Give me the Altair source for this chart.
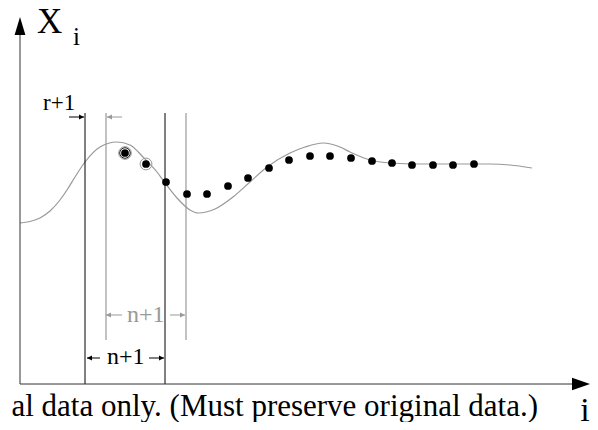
import altair as alt
import pandas as pd

# Reference signal (smooth curve), in diagram units (x to the right of the Y axis, y above the i axis)
curve_x = [0, 10, 20, 30, 40, 47, 55, 65, 80, 97, 110, 123, 137, 145, 157, 170, 178, 195, 213, 230, 247,
           270, 285, 303, 320, 330, 350, 370, 400, 440, 470, 490, 512]
curve_y = [161, 162.5, 166, 173, 184, 194, 207, 222, 237, 242, 239, 227, 212, 201, 186, 174, 171, 175, 187,
           202, 217, 231, 237, 241, 237, 232, 224, 221, 220, 220, 220, 219, 216]

# Filtered samples (dots)
dot_x = [105, 126, 146, 167, 187, 208, 228, 249, 269, 290, 310, 331, 352, 372, 392, 413, 433, 454]
dot_y = [231, 220, 202, 190, 190, 198, 206, 216, 224, 228, 228, 226, 223, 221, 219, 219, 219, 220]

# Window boundaries
black_bounds = [65, 145]
gray_bounds = [86, 166]
black_top, gray_top, gray_bottom = 271, 271, 44

# Dimension arrows: start, tip, y, colour
arr_start = [49, 102, 102, 150, 80, 129]
arr_tip = [64, 87, 86, 165, 67, 144]
arr_y = [267, 267, 69, 69, 26, 26]
arr_col = ["black", "#999999", "#999999", "#999999", "black", "black"]

# Labels
lab_text = ["X", "i", "r+1", "n+1", "n+1"]
lab_x = [17, 53, 23, 107, 87]
lab_y = [351, 339, 274, 62, 20]
lab_size = [35, 25, 23, 24, 24]
lab_col = ["black", "black", "black", "#999999", "black"]

GRAY = "#999999"
FONT = "Liberation Serif"

# plot area covers window pixels 8..590 x 8..422
xs = alt.Scale(domain=[-12, 570], nice=False, zero=False)
ys = alt.Scale(domain=[-38, 376], nice=False, zero=False)

def X(f="x"):
    return alt.X(f"{f}:Q", scale=xs, axis=None)

def Y(f="y"):
    return alt.Y(f"{f}:Q", scale=ys, axis=None)

curve_df = pd.DataFrame({"x": curve_x, "y": curve_y})
dots_df = pd.DataFrame({"x": dot_x, "y": dot_y})

curve = alt.Chart(curve_df).mark_line(color=GRAY, strokeWidth=1.2, interpolate="monotone").encode(x=X(), y=Y())
dots = alt.Chart(dots_df).mark_circle(color="black", opacity=1, size=60).encode(x=X(), y=Y())

ring_df = pd.DataFrame({"x": [dot_x[0], dot_x[0], dot_x[1]], "y": [dot_y[0], dot_y[0], dot_y[1]],
                        "size": [113, 160, 140], "c": ["black", GRAY, GRAY]})
rings = alt.Chart(ring_df).mark_point(filled=False, strokeWidth=1, opacity=1, shape="circle").encode(
    x=X(), y=Y(), size=alt.Size("size:Q", scale=None), color=alt.Color("c:N", scale=None))

# axes
axes_df = pd.DataFrame({"x": [0, 0], "x2": [0, 553], "y": [0, 0], "y2": [350, 0]})
axes = alt.Chart(axes_df).mark_rule(color="#333333", strokeWidth=1).encode(
    x=X(), x2="x2:Q", y=Y(), y2="y2:Q")
head_df = pd.DataFrame({"x": [0], "y": [358]})
yhead = alt.Chart(head_df).mark_point(shape="M-0.6,1L0,-1L0.6,1Z", filled=True, color="black",
                                      size=324, opacity=1).encode(x=X(), y=Y())
xhead_df = pd.DataFrame({"x": [561], "y": [0]})
xhead = alt.Chart(xhead_df).mark_point(shape="M-1,-0.7L1,0L-1,0.7Z", filled=True, color="black",
                                       size=324, opacity=1).encode(x=X(), y=Y())

# window boundaries
bb_df = pd.DataFrame({"x": black_bounds, "y": [0, 0], "y2": [black_top, black_top]})
bb = alt.Chart(bb_df).mark_rule(color="black", strokeWidth=1).encode(x=X(), y=Y(), y2="y2:Q")
gb_df = pd.DataFrame({"x": gray_bounds, "y": [gray_bottom] * 2, "y2": [gray_top] * 2})
gb = alt.Chart(gb_df).mark_rule(color=GRAY, strokeWidth=1.2).encode(x=X(), y=Y(), y2="y2:Q")

# dimension arrows
arr_df = pd.DataFrame({"x": arr_start, "x2": arr_tip, "y": arr_y, "c": arr_col})
arr_df["dir"] = ["r" if t > s else "l" for s, t in zip(arr_start, arr_tip)]
arr_df["hx"] = [t - 2.5 if d == "r" else t + 2.5 for t, d in zip(arr_tip, arr_df["dir"])]
shafts = alt.Chart(arr_df).mark_rule(strokeWidth=1).encode(
    x=X(), x2="x2:Q", y=Y(), color=alt.Color("c:N", scale=None))
rheads = alt.Chart(arr_df[arr_df["dir"] == "r"]).mark_point(
    shape="M-1,-1L1,0L-1,1Z", filled=True, size=25, opacity=1).encode(
    x=X("hx"), y=Y(), color=alt.Color("c:N", scale=None))
lheads = alt.Chart(arr_df[arr_df["dir"] == "l"]).mark_point(
    shape="M1,-1L-1,0L1,1Z", filled=True, size=25, opacity=1).encode(
    x=X("hx"), y=Y(), color=alt.Color("c:N", scale=None))

lab_df = pd.DataFrame({"t": lab_text, "x": lab_x, "y": lab_y, "s": lab_size, "c": lab_col})
labels = alt.Chart(lab_df).mark_text(font=FONT, align="left", baseline="alphabetic").encode(
    x=X(), y=Y(), text="t:N", size=alt.Size("s:Q", scale=None), color=alt.Color("c:N", scale=None))

foot_df = pd.DataFrame({"t": ["al data only. (Must preserve original data.)"], "x": [518], "y": [-32]})
foot = alt.Chart(foot_df).mark_text(font=FONT, align="right", baseline="alphabetic", fontSize=31,
                                    color="black").encode(x=X(), y=Y(), text="t:N")
ilab_df = pd.DataFrame({"t": ["i"], "x": [565], "y": [-37]})
ilab = alt.Chart(ilab_df).mark_text(font=FONT, align="center", baseline="alphabetic", fontSize=34,
                                    color="black").encode(x=X(), y=Y(), text="t:N")

chart = alt.layer(curve, gb, bb, axes, yhead, xhead, shafts, rheads, lheads, rings, dots,
                  labels, foot, ilab).properties(
    width=582, height=414, padding=0, autosize=alt.AutoSizeParams(type="none"),
    background="white"
).configure_view(strokeWidth=0)

chart.save("out.html", embed_options={"renderer": "svg", "actions": False})
